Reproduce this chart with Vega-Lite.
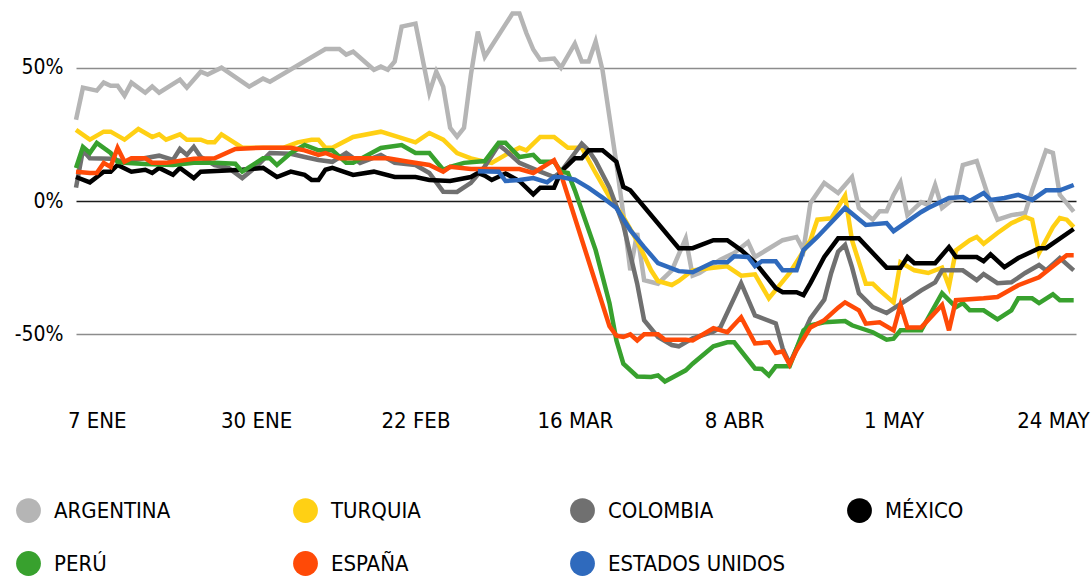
{
  "$schema": "https://vega.github.io/schema/vega-lite/v6.json",
  "width": 1000,
  "height": 400,
  "autosize": {"type": "none"},
  "padding": {"left": 76, "top": 1, "right": 16, "bottom": 184},
  "background": "white",
  "config": {"view": {"stroke": null}, "font": "DejaVu Sans Condensed, Liberation Sans Narrow, DejaVu Sans"},
  "data": {"values": [
    {"c":"ARGENTINA","d":"2020-01-04","v":30.5},{"c":"ARGENTINA","d":"2020-01-05","v":42.5},{"c":"ARGENTINA","d":"2020-01-07","v":41.4},{"c":"ARGENTINA","d":"2020-01-08","v":44.4},{"c":"ARGENTINA","d":"2020-01-09","v":43.2},{"c":"ARGENTINA","d":"2020-01-10","v":43.2},{"c":"ARGENTINA","d":"2020-01-11","v":39.5},{"c":"ARGENTINA","d":"2020-01-12","v":44.4},{"c":"ARGENTINA","d":"2020-01-14","v":40.6},{"c":"ARGENTINA","d":"2020-01-15","v":42.9},{"c":"ARGENTINA","d":"2020-01-16","v":40.6},{"c":"ARGENTINA","d":"2020-01-19","v":45.5},{"c":"ARGENTINA","d":"2020-01-20","v":42.5},{"c":"ARGENTINA","d":"2020-01-22","v":48.5},{"c":"ARGENTINA","d":"2020-01-23","v":47.4},{"c":"ARGENTINA","d":"2020-01-25","v":50},{"c":"ARGENTINA","d":"2020-01-29","v":42.9},{"c":"ARGENTINA","d":"2020-01-31","v":45.9},{"c":"ARGENTINA","d":"2020-02-01","v":44.7},{"c":"ARGENTINA","d":"2020-02-09","v":57},{"c":"ARGENTINA","d":"2020-02-11","v":57},{"c":"ARGENTINA","d":"2020-02-12","v":54.9},{"c":"ARGENTINA","d":"2020-02-13","v":56},{"c":"ARGENTINA","d":"2020-02-16","v":49.2},{"c":"ARGENTINA","d":"2020-02-17","v":50.4},{"c":"ARGENTINA","d":"2020-02-18","v":49.2},{"c":"ARGENTINA","d":"2020-02-19","v":52.3},{"c":"ARGENTINA","d":"2020-02-20","v":65.4},{"c":"ARGENTINA","d":"2020-02-22","v":66.5},{"c":"ARGENTINA","d":"2020-02-24","v":40.6},{"c":"ARGENTINA","d":"2020-02-25","v":48.5},{"c":"ARGENTINA","d":"2020-02-26","v":42.9},{"c":"ARGENTINA","d":"2020-02-27","v":27.4},{"c":"ARGENTINA","d":"2020-02-28","v":24.1},{"c":"ARGENTINA","d":"2020-02-29","v":27.4},{"c":"ARGENTINA","d":"2020-03-01","v":47.4},{"c":"ARGENTINA","d":"2020-03-02","v":63.5},{"c":"ARGENTINA","d":"2020-03-03","v":54.1},{"c":"ARGENTINA","d":"2020-03-07","v":70.3},{"c":"ARGENTINA","d":"2020-03-08","v":70.3},{"c":"ARGENTINA","d":"2020-03-09","v":63},{"c":"ARGENTINA","d":"2020-03-10","v":56.8},{"c":"ARGENTINA","d":"2020-03-11","v":53},{"c":"ARGENTINA","d":"2020-03-13","v":53.4},{"c":"ARGENTINA","d":"2020-03-14","v":50},{"c":"ARGENTINA","d":"2020-03-16","v":59},{"c":"ARGENTINA","d":"2020-03-17","v":52.3},{"c":"ARGENTINA","d":"2020-03-18","v":52.3},{"c":"ARGENTINA","d":"2020-03-19","v":59.8},{"c":"ARGENTINA","d":"2020-03-20","v":49},{"c":"ARGENTINA","d":"2020-03-22","v":14},{"c":"ARGENTINA","d":"2020-03-23","v":-5},{"c":"ARGENTINA","d":"2020-03-24","v":-26},{"c":"ARGENTINA","d":"2020-03-25","v":-12},{"c":"ARGENTINA","d":"2020-03-26","v":-29.7},{"c":"ARGENTINA","d":"2020-03-28","v":-31},{"c":"ARGENTINA","d":"2020-03-30","v":-26},{"c":"ARGENTINA","d":"2020-04-01","v":-14},{"c":"ARGENTINA","d":"2020-04-02","v":-28},{"c":"ARGENTINA","d":"2020-04-03","v":-27},{"c":"ARGENTINA","d":"2020-04-06","v":-22},{"c":"ARGENTINA","d":"2020-04-08","v":-19.5},{"c":"ARGENTINA","d":"2020-04-10","v":-15.4},{"c":"ARGENTINA","d":"2020-04-11","v":-21},{"c":"ARGENTINA","d":"2020-04-15","v":-14.7},{"c":"ARGENTINA","d":"2020-04-17","v":-13.5},{"c":"ARGENTINA","d":"2020-04-18","v":-18.4},{"c":"ARGENTINA","d":"2020-04-19","v":-0.8},{"c":"ARGENTINA","d":"2020-04-21","v":6.8},{"c":"ARGENTINA","d":"2020-04-23","v":3},{"c":"ARGENTINA","d":"2020-04-25","v":9},{"c":"ARGENTINA","d":"2020-04-26","v":-2.6},{"c":"ARGENTINA","d":"2020-04-28","v":-7},{"c":"ARGENTINA","d":"2020-04-29","v":-3.8},{"c":"ARGENTINA","d":"2020-04-30","v":-3.8},{"c":"ARGENTINA","d":"2020-05-01","v":2.3},{"c":"ARGENTINA","d":"2020-05-02","v":7},{"c":"ARGENTINA","d":"2020-05-03","v":-5.3},{"c":"ARGENTINA","d":"2020-05-05","v":-0.4},{"c":"ARGENTINA","d":"2020-05-06","v":-1.5},{"c":"ARGENTINA","d":"2020-05-07","v":6},{"c":"ARGENTINA","d":"2020-05-08","v":-2.6},{"c":"ARGENTINA","d":"2020-05-10","v":1.5},{"c":"ARGENTINA","d":"2020-05-11","v":13.5},{"c":"ARGENTINA","d":"2020-05-13","v":15},{"c":"ARGENTINA","d":"2020-05-15","v":-0.8},{"c":"ARGENTINA","d":"2020-05-16","v":-7},{"c":"ARGENTINA","d":"2020-05-18","v":-5.3},{"c":"ARGENTINA","d":"2020-05-20","v":-4.5},{"c":"ARGENTINA","d":"2020-05-21","v":4},{"c":"ARGENTINA","d":"2020-05-23","v":19},{"c":"ARGENTINA","d":"2020-05-24","v":18},{"c":"ARGENTINA","d":"2020-05-25","v":2.3},{"c":"ARGENTINA","d":"2020-05-27","v":-4},

    {"c":"TURQUIA","d":"2020-01-04","v":26.7},{"c":"TURQUIA","d":"2020-01-06","v":23},{"c":"TURQUIA","d":"2020-01-08","v":26},{"c":"TURQUIA","d":"2020-01-09","v":26},{"c":"TURQUIA","d":"2020-01-11","v":23},{"c":"TURQUIA","d":"2020-01-13","v":27},{"c":"TURQUIA","d":"2020-01-15","v":24},{"c":"TURQUIA","d":"2020-01-16","v":25},{"c":"TURQUIA","d":"2020-01-17","v":23},{"c":"TURQUIA","d":"2020-01-19","v":25},{"c":"TURQUIA","d":"2020-01-20","v":23},{"c":"TURQUIA","d":"2020-01-22","v":23},{"c":"TURQUIA","d":"2020-01-23","v":22},{"c":"TURQUIA","d":"2020-01-24","v":22},{"c":"TURQUIA","d":"2020-01-25","v":25},{"c":"TURQUIA","d":"2020-01-28","v":20},{"c":"TURQUIA","d":"2020-01-31","v":20},{"c":"TURQUIA","d":"2020-02-03","v":20},{"c":"TURQUIA","d":"2020-02-05","v":22},{"c":"TURQUIA","d":"2020-02-07","v":23},{"c":"TURQUIA","d":"2020-02-08","v":23},{"c":"TURQUIA","d":"2020-02-09","v":20},{"c":"TURQUIA","d":"2020-02-10","v":20},{"c":"TURQUIA","d":"2020-02-13","v":24},{"c":"TURQUIA","d":"2020-02-17","v":26},{"c":"TURQUIA","d":"2020-02-22","v":22},{"c":"TURQUIA","d":"2020-02-24","v":25.5},{"c":"TURQUIA","d":"2020-02-26","v":23},{"c":"TURQUIA","d":"2020-02-28","v":18},{"c":"TURQUIA","d":"2020-03-01","v":16},{"c":"TURQUIA","d":"2020-03-03","v":14.7},{"c":"TURQUIA","d":"2020-03-04","v":14.3},{"c":"TURQUIA","d":"2020-03-06","v":17.3},{"c":"TURQUIA","d":"2020-03-08","v":20},{"c":"TURQUIA","d":"2020-03-09","v":19},{"c":"TURQUIA","d":"2020-03-11","v":24},{"c":"TURQUIA","d":"2020-03-13","v":24},{"c":"TURQUIA","d":"2020-03-15","v":20},{"c":"TURQUIA","d":"2020-03-17","v":20},{"c":"TURQUIA","d":"2020-03-19","v":10.5},{"c":"TURQUIA","d":"2020-03-21","v":1.5},{"c":"TURQUIA","d":"2020-03-23","v":-6},{"c":"TURQUIA","d":"2020-03-25","v":-15},{"c":"TURQUIA","d":"2020-03-27","v":-26},{"c":"TURQUIA","d":"2020-03-28","v":-30},{"c":"TURQUIA","d":"2020-03-30","v":-31.5},{"c":"TURQUIA","d":"2020-03-31","v":-30},{"c":"TURQUIA","d":"2020-04-02","v":-26},{"c":"TURQUIA","d":"2020-04-05","v":-25},{"c":"TURQUIA","d":"2020-04-07","v":-24.5},{"c":"TURQUIA","d":"2020-04-09","v":-28},{"c":"TURQUIA","d":"2020-04-11","v":-27.5},{"c":"TURQUIA","d":"2020-04-13","v":-36.5},{"c":"TURQUIA","d":"2020-04-16","v":-27},{"c":"TURQUIA","d":"2020-04-19","v":-14.7},{"c":"TURQUIA","d":"2020-04-20","v":-7},{"c":"TURQUIA","d":"2020-04-22","v":-6.5},{"c":"TURQUIA","d":"2020-04-24","v":2},{"c":"TURQUIA","d":"2020-04-25","v":-14.7},{"c":"TURQUIA","d":"2020-04-27","v":-31},{"c":"TURQUIA","d":"2020-04-28","v":-31},{"c":"TURQUIA","d":"2020-04-29","v":-33.5},{"c":"TURQUIA","d":"2020-05-01","v":-38},{"c":"TURQUIA","d":"2020-05-02","v":-23},{"c":"TURQUIA","d":"2020-05-04","v":-26},{"c":"TURQUIA","d":"2020-05-06","v":-27},{"c":"TURQUIA","d":"2020-05-08","v":-25},{"c":"TURQUIA","d":"2020-05-09","v":-32},{"c":"TURQUIA","d":"2020-05-10","v":-18.5},{"c":"TURQUIA","d":"2020-05-12","v":-14.7},{"c":"TURQUIA","d":"2020-05-13","v":-13.5},{"c":"TURQUIA","d":"2020-05-14","v":-16},{"c":"TURQUIA","d":"2020-05-16","v":-12},{"c":"TURQUIA","d":"2020-05-18","v":-8.3},{"c":"TURQUIA","d":"2020-05-20","v":-6},{"c":"TURQUIA","d":"2020-05-21","v":-7},{"c":"TURQUIA","d":"2020-05-22","v":-19.5},{"c":"TURQUIA","d":"2020-05-24","v":-9.8},{"c":"TURQUIA","d":"2020-05-25","v":-6.4},{"c":"TURQUIA","d":"2020-05-26","v":-7},{"c":"TURQUIA","d":"2020-05-27","v":-9.8},

    {"c":"COLOMBIA","d":"2020-01-04","v":5},{"c":"COLOMBIA","d":"2020-01-05","v":19},{"c":"COLOMBIA","d":"2020-01-06","v":16},{"c":"COLOMBIA","d":"2020-01-09","v":15.8},{"c":"COLOMBIA","d":"2020-01-11","v":14.7},{"c":"COLOMBIA","d":"2020-01-16","v":17},{"c":"COLOMBIA","d":"2020-01-18","v":15.4},{"c":"COLOMBIA","d":"2020-01-19","v":19.5},{"c":"COLOMBIA","d":"2020-01-20","v":17.3},{"c":"COLOMBIA","d":"2020-01-21","v":20.3},{"c":"COLOMBIA","d":"2020-01-22","v":16.5},{"c":"COLOMBIA","d":"2020-01-24","v":13.5},{"c":"COLOMBIA","d":"2020-01-26","v":12.4},{"c":"COLOMBIA","d":"2020-01-28","v":8.6},{"c":"COLOMBIA","d":"2020-01-30","v":12.8},{"c":"COLOMBIA","d":"2020-02-01","v":18},{"c":"COLOMBIA","d":"2020-02-04","v":17.7},{"c":"COLOMBIA","d":"2020-02-06","v":16.5},{"c":"COLOMBIA","d":"2020-02-08","v":15.4},{"c":"COLOMBIA","d":"2020-02-10","v":14.7},{"c":"COLOMBIA","d":"2020-02-12","v":18},{"c":"COLOMBIA","d":"2020-02-14","v":14.3},{"c":"COLOMBIA","d":"2020-02-17","v":17.3},{"c":"COLOMBIA","d":"2020-02-19","v":14.3},{"c":"COLOMBIA","d":"2020-02-22","v":13.5},{"c":"COLOMBIA","d":"2020-02-24","v":10.5},{"c":"COLOMBIA","d":"2020-02-26","v":3.5},{"c":"COLOMBIA","d":"2020-02-28","v":3.4},{"c":"COLOMBIA","d":"2020-03-01","v":6.8},{"c":"COLOMBIA","d":"2020-03-03","v":13},{"c":"COLOMBIA","d":"2020-03-05","v":21},{"c":"COLOMBIA","d":"2020-03-06","v":19},{"c":"COLOMBIA","d":"2020-03-08","v":14.3},{"c":"COLOMBIA","d":"2020-03-11","v":11},{"c":"COLOMBIA","d":"2020-03-13","v":9},{"c":"COLOMBIA","d":"2020-03-14","v":11},{"c":"COLOMBIA","d":"2020-03-16","v":18},{"c":"COLOMBIA","d":"2020-03-17","v":21.5},{"c":"COLOMBIA","d":"2020-03-18","v":19},{"c":"COLOMBIA","d":"2020-03-19","v":15},{"c":"COLOMBIA","d":"2020-03-21","v":5},{"c":"COLOMBIA","d":"2020-03-23","v":-9},{"c":"COLOMBIA","d":"2020-03-25","v":-31},{"c":"COLOMBIA","d":"2020-03-26","v":-44.7},{"c":"COLOMBIA","d":"2020-03-28","v":-51},{"c":"COLOMBIA","d":"2020-03-30","v":-54},{"c":"COLOMBIA","d":"2020-03-31","v":-54.5},{"c":"COLOMBIA","d":"2020-04-02","v":-51.5},{"c":"COLOMBIA","d":"2020-04-05","v":-49},{"c":"COLOMBIA","d":"2020-04-06","v":-47.4},{"c":"COLOMBIA","d":"2020-04-09","v":-30.8},{"c":"COLOMBIA","d":"2020-04-11","v":-42.9},{"c":"COLOMBIA","d":"2020-04-14","v":-45.9},{"c":"COLOMBIA","d":"2020-04-15","v":-55.3},{"c":"COLOMBIA","d":"2020-04-16","v":-61},{"c":"COLOMBIA","d":"2020-04-19","v":-44},{"c":"COLOMBIA","d":"2020-04-21","v":-37},{"c":"COLOMBIA","d":"2020-04-22","v":-27},{"c":"COLOMBIA","d":"2020-04-23","v":-19},{"c":"COLOMBIA","d":"2020-04-24","v":-16.5},{"c":"COLOMBIA","d":"2020-04-25","v":-24.8},{"c":"COLOMBIA","d":"2020-04-26","v":-34.6},{"c":"COLOMBIA","d":"2020-04-28","v":-39.8},{"c":"COLOMBIA","d":"2020-04-30","v":-42},{"c":"COLOMBIA","d":"2020-05-03","v":-37},{"c":"COLOMBIA","d":"2020-05-05","v":-33.5},{"c":"COLOMBIA","d":"2020-05-07","v":-30.5},{"c":"COLOMBIA","d":"2020-05-08","v":-26},{"c":"COLOMBIA","d":"2020-05-11","v":-26},{"c":"COLOMBIA","d":"2020-05-13","v":-29.7},{"c":"COLOMBIA","d":"2020-05-14","v":-27.4},{"c":"COLOMBIA","d":"2020-05-16","v":-30.8},{"c":"COLOMBIA","d":"2020-05-18","v":-30.5},{"c":"COLOMBIA","d":"2020-05-20","v":-27},{"c":"COLOMBIA","d":"2020-05-22","v":-24},{"c":"COLOMBIA","d":"2020-05-23","v":-26},{"c":"COLOMBIA","d":"2020-05-25","v":-21.4},{"c":"COLOMBIA","d":"2020-05-27","v":-26},

    {"c":"MÉXICO","d":"2020-01-04","v":9},{"c":"MÉXICO","d":"2020-01-06","v":7},{"c":"MÉXICO","d":"2020-01-08","v":11},{"c":"MÉXICO","d":"2020-01-09","v":11},{"c":"MÉXICO","d":"2020-01-10","v":13.5},{"c":"MÉXICO","d":"2020-01-12","v":11},{"c":"MÉXICO","d":"2020-01-14","v":11.7},{"c":"MÉXICO","d":"2020-01-15","v":10.5},{"c":"MÉXICO","d":"2020-01-16","v":12.4},{"c":"MÉXICO","d":"2020-01-18","v":9.8},{"c":"MÉXICO","d":"2020-01-19","v":12.4},{"c":"MÉXICO","d":"2020-01-21","v":8.6},{"c":"MÉXICO","d":"2020-01-22","v":11},{"c":"MÉXICO","d":"2020-01-28","v":11.7},{"c":"MÉXICO","d":"2020-01-31","v":12.4},{"c":"MÉXICO","d":"2020-02-02","v":9},{"c":"MÉXICO","d":"2020-02-04","v":11},{"c":"MÉXICO","d":"2020-02-06","v":9.8},{"c":"MÉXICO","d":"2020-02-07","v":7.9},{"c":"MÉXICO","d":"2020-02-08","v":7.9},{"c":"MÉXICO","d":"2020-02-09","v":11.7},{"c":"MÉXICO","d":"2020-02-10","v":12.4},{"c":"MÉXICO","d":"2020-02-13","v":9.8},{"c":"MÉXICO","d":"2020-02-16","v":11},{"c":"MÉXICO","d":"2020-02-19","v":9},{"c":"MÉXICO","d":"2020-02-22","v":9},{"c":"MÉXICO","d":"2020-02-24","v":7.9},{"c":"MÉXICO","d":"2020-02-27","v":7.5},{"c":"MÉXICO","d":"2020-03-01","v":9},{"c":"MÉXICO","d":"2020-03-02","v":10.5},{"c":"MÉXICO","d":"2020-03-03","v":9.5},{"c":"MÉXICO","d":"2020-03-04","v":7.9},{"c":"MÉXICO","d":"2020-03-06","v":10.3},{"c":"MÉXICO","d":"2020-03-08","v":7.5},{"c":"MÉXICO","d":"2020-03-10","v":2.5},{"c":"MÉXICO","d":"2020-03-11","v":5},{"c":"MÉXICO","d":"2020-03-13","v":5},{"c":"MÉXICO","d":"2020-03-14","v":11},{"c":"MÉXICO","d":"2020-03-16","v":16},{"c":"MÉXICO","d":"2020-03-17","v":16},{"c":"MÉXICO","d":"2020-03-18","v":19},{"c":"MÉXICO","d":"2020-03-20","v":19},{"c":"MÉXICO","d":"2020-03-22","v":14.7},{"c":"MÉXICO","d":"2020-03-23","v":5.3},{"c":"MÉXICO","d":"2020-03-24","v":4},{"c":"MÉXICO","d":"2020-03-31","v":-17.7},{"c":"MÉXICO","d":"2020-04-02","v":-17.7},{"c":"MÉXICO","d":"2020-04-05","v":-14.7},{"c":"MÉXICO","d":"2020-04-07","v":-14.7},{"c":"MÉXICO","d":"2020-04-09","v":-18.4},{"c":"MÉXICO","d":"2020-04-11","v":-23},{"c":"MÉXICO","d":"2020-04-14","v":-32.7},{"c":"MÉXICO","d":"2020-04-15","v":-34.2},{"c":"MÉXICO","d":"2020-04-17","v":-34.2},{"c":"MÉXICO","d":"2020-04-18","v":-35.3},{"c":"MÉXICO","d":"2020-04-19","v":-30.8},{"c":"MÉXICO","d":"2020-04-21","v":-21},{"c":"MÉXICO","d":"2020-04-23","v":-14},{"c":"MÉXICO","d":"2020-04-26","v":-14},{"c":"MÉXICO","d":"2020-04-30","v":-25},{"c":"MÉXICO","d":"2020-05-02","v":-25},{"c":"MÉXICO","d":"2020-05-03","v":-21},{"c":"MÉXICO","d":"2020-05-04","v":-23.3},{"c":"MÉXICO","d":"2020-05-07","v":-23.3},{"c":"MÉXICO","d":"2020-05-09","v":-17.3},{"c":"MÉXICO","d":"2020-05-10","v":-21},{"c":"MÉXICO","d":"2020-05-13","v":-21},{"c":"MÉXICO","d":"2020-05-14","v":-22.6},{"c":"MÉXICO","d":"2020-05-15","v":-20},{"c":"MÉXICO","d":"2020-05-17","v":-24.8},{"c":"MÉXICO","d":"2020-05-19","v":-21.4},{"c":"MÉXICO","d":"2020-05-22","v":-17.7},{"c":"MÉXICO","d":"2020-05-23","v":-17.7},{"c":"MÉXICO","d":"2020-05-27","v":-10.5},

    {"c":"PERÚ","d":"2020-01-04","v":12.4},{"c":"PERÚ","d":"2020-01-05","v":20.3},{"c":"PERÚ","d":"2020-01-06","v":18},{"c":"PERÚ","d":"2020-01-07","v":21.8},{"c":"PERÚ","d":"2020-01-09","v":18},{"c":"PERÚ","d":"2020-01-10","v":14.7},{"c":"PERÚ","d":"2020-01-11","v":14.3},{"c":"PERÚ","d":"2020-01-14","v":13.9},{"c":"PERÚ","d":"2020-01-18","v":13.5},{"c":"PERÚ","d":"2020-01-21","v":14.3},{"c":"PERÚ","d":"2020-01-24","v":14.3},{"c":"PERÚ","d":"2020-01-27","v":14},{"c":"PERÚ","d":"2020-01-28","v":11},{"c":"PERÚ","d":"2020-01-31","v":16},{"c":"PERÚ","d":"2020-02-01","v":16},{"c":"PERÚ","d":"2020-02-02","v":13.5},{"c":"PERÚ","d":"2020-02-04","v":18},{"c":"PERÚ","d":"2020-02-06","v":21},{"c":"PERÚ","d":"2020-02-08","v":19},{"c":"PERÚ","d":"2020-02-10","v":19},{"c":"PERÚ","d":"2020-02-12","v":14.3},{"c":"PERÚ","d":"2020-02-13","v":14.3},{"c":"PERÚ","d":"2020-02-17","v":19.9},{"c":"PERÚ","d":"2020-02-20","v":21},{"c":"PERÚ","d":"2020-02-22","v":18},{"c":"PERÚ","d":"2020-02-24","v":18},{"c":"PERÚ","d":"2020-02-26","v":11.7},{"c":"PERÚ","d":"2020-02-27","v":12.8},{"c":"PERÚ","d":"2020-02-29","v":14.3},{"c":"PERÚ","d":"2020-03-03","v":15},{"c":"PERÚ","d":"2020-03-05","v":21.8},{"c":"PERÚ","d":"2020-03-06","v":21.8},{"c":"PERÚ","d":"2020-03-08","v":16.5},{"c":"PERÚ","d":"2020-03-10","v":17.3},{"c":"PERÚ","d":"2020-03-11","v":14.7},{"c":"PERÚ","d":"2020-03-13","v":14.7},{"c":"PERÚ","d":"2020-03-14","v":11},{"c":"PERÚ","d":"2020-03-15","v":10.5},{"c":"PERÚ","d":"2020-03-16","v":4},{"c":"PERÚ","d":"2020-03-19","v":-18.4},{"c":"PERÚ","d":"2020-03-21","v":-38.3},{"c":"PERÚ","d":"2020-03-22","v":-52.3},{"c":"PERÚ","d":"2020-03-23","v":-61},{"c":"PERÚ","d":"2020-03-25","v":-65.8},{"c":"PERÚ","d":"2020-03-27","v":-66},{"c":"PERÚ","d":"2020-03-28","v":-65.4},{"c":"PERÚ","d":"2020-03-29","v":-67.7},{"c":"PERÚ","d":"2020-04-01","v":-63.5},{"c":"PERÚ","d":"2020-04-02","v":-61},{"c":"PERÚ","d":"2020-04-05","v":-54.5},{"c":"PERÚ","d":"2020-04-07","v":-53},{"c":"PERÚ","d":"2020-04-08","v":-53},{"c":"PERÚ","d":"2020-04-11","v":-62.8},{"c":"PERÚ","d":"2020-04-12","v":-63},{"c":"PERÚ","d":"2020-04-13","v":-65.4},{"c":"PERÚ","d":"2020-04-14","v":-62},{"c":"PERÚ","d":"2020-04-16","v":-62},{"c":"PERÚ","d":"2020-04-18","v":-48.5},{"c":"PERÚ","d":"2020-04-19","v":-46.6},{"c":"PERÚ","d":"2020-04-21","v":-45.5},{"c":"PERÚ","d":"2020-04-24","v":-45},{"c":"PERÚ","d":"2020-04-25","v":-46.6},{"c":"PERÚ","d":"2020-04-28","v":-49.2},{"c":"PERÚ","d":"2020-04-30","v":-52},{"c":"PERÚ","d":"2020-05-01","v":-51.6},{"c":"PERÚ","d":"2020-05-02","v":-48.5},{"c":"PERÚ","d":"2020-05-05","v":-48.5},{"c":"PERÚ","d":"2020-05-08","v":-34.6},{"c":"PERÚ","d":"2020-05-10","v":-39.8},{"c":"PERÚ","d":"2020-05-11","v":-38.3},{"c":"PERÚ","d":"2020-05-12","v":-41},{"c":"PERÚ","d":"2020-05-14","v":-41},{"c":"PERÚ","d":"2020-05-16","v":-44.4},{"c":"PERÚ","d":"2020-05-18","v":-41},{"c":"PERÚ","d":"2020-05-19","v":-36.5},{"c":"PERÚ","d":"2020-05-21","v":-36.5},{"c":"PERÚ","d":"2020-05-22","v":-38.3},{"c":"PERÚ","d":"2020-05-24","v":-35},{"c":"PERÚ","d":"2020-05-25","v":-37.2},{"c":"PERÚ","d":"2020-05-27","v":-37.2},

    {"c":"ESPAÑA","d":"2020-01-04","v":11},{"c":"ESPAÑA","d":"2020-01-06","v":10.5},{"c":"ESPAÑA","d":"2020-01-07","v":10.5},{"c":"ESPAÑA","d":"2020-01-08","v":14.3},{"c":"ESPAÑA","d":"2020-01-09","v":12.8},{"c":"ESPAÑA","d":"2020-01-10","v":19.9},{"c":"ESPAÑA","d":"2020-01-11","v":14.7},{"c":"ESPAÑA","d":"2020-01-12","v":16},{"c":"ESPAÑA","d":"2020-01-14","v":16},{"c":"ESPAÑA","d":"2020-01-15","v":14.3},{"c":"ESPAÑA","d":"2020-01-17","v":14.3},{"c":"ESPAÑA","d":"2020-01-21","v":15.8},{"c":"ESPAÑA","d":"2020-01-24","v":16},{"c":"ESPAÑA","d":"2020-01-27","v":19.5},{"c":"ESPAÑA","d":"2020-01-31","v":20},{"c":"ESPAÑA","d":"2020-02-04","v":20},{"c":"ESPAÑA","d":"2020-02-06","v":19},{"c":"ESPAÑA","d":"2020-02-08","v":17.3},{"c":"ESPAÑA","d":"2020-02-09","v":18},{"c":"ESPAÑA","d":"2020-02-11","v":16},{"c":"ESPAÑA","d":"2020-02-18","v":16},{"c":"ESPAÑA","d":"2020-02-21","v":14.7},{"c":"ESPAÑA","d":"2020-02-24","v":13.5},{"c":"ESPAÑA","d":"2020-02-26","v":11},{"c":"ESPAÑA","d":"2020-02-27","v":12.8},{"c":"ESPAÑA","d":"2020-03-01","v":12},{"c":"ESPAÑA","d":"2020-03-08","v":12},{"c":"ESPAÑA","d":"2020-03-10","v":10.5},{"c":"ESPAÑA","d":"2020-03-13","v":15.3},{"c":"ESPAÑA","d":"2020-03-14","v":10},{"c":"ESPAÑA","d":"2020-03-21","v":-47},{"c":"ESPAÑA","d":"2020-03-22","v":-50.5},{"c":"ESPAÑA","d":"2020-03-23","v":-51},{"c":"ESPAÑA","d":"2020-03-24","v":-50},{"c":"ESPAÑA","d":"2020-03-25","v":-52.3},{"c":"ESPAÑA","d":"2020-03-26","v":-50},{"c":"ESPAÑA","d":"2020-03-28","v":-50},{"c":"ESPAÑA","d":"2020-03-29","v":-52},{"c":"ESPAÑA","d":"2020-04-01","v":-52},{"c":"ESPAÑA","d":"2020-04-02","v":-52.3},{"c":"ESPAÑA","d":"2020-04-05","v":-47.7},{"c":"ESPAÑA","d":"2020-04-07","v":-49.2},{"c":"ESPAÑA","d":"2020-04-09","v":-43.6},{"c":"ESPAÑA","d":"2020-04-11","v":-53.4},{"c":"ESPAÑA","d":"2020-04-13","v":-53},{"c":"ESPAÑA","d":"2020-04-14","v":-57},{"c":"ESPAÑA","d":"2020-04-15","v":-56.4},{"c":"ESPAÑA","d":"2020-04-16","v":-61.3},{"c":"ESPAÑA","d":"2020-04-17","v":-56},{"c":"ESPAÑA","d":"2020-04-19","v":-47.4},{"c":"ESPAÑA","d":"2020-04-21","v":-44.7},{"c":"ESPAÑA","d":"2020-04-23","v":-40},{"c":"ESPAÑA","d":"2020-04-24","v":-38},{"c":"ESPAÑA","d":"2020-04-26","v":-41},{"c":"ESPAÑA","d":"2020-04-27","v":-46},{"c":"ESPAÑA","d":"2020-04-29","v":-45.5},{"c":"ESPAÑA","d":"2020-05-01","v":-48.5},{"c":"ESPAÑA","d":"2020-05-02","v":-39},{"c":"ESPAÑA","d":"2020-05-03","v":-47.4},{"c":"ESPAÑA","d":"2020-05-05","v":-47.4},{"c":"ESPAÑA","d":"2020-05-08","v":-39},{"c":"ESPAÑA","d":"2020-05-09","v":-48.5},{"c":"ESPAÑA","d":"2020-05-10","v":-37.2},{"c":"ESPAÑA","d":"2020-05-14","v":-36.5},{"c":"ESPAÑA","d":"2020-05-16","v":-36},{"c":"ESPAÑA","d":"2020-05-19","v":-31.6},{"c":"ESPAÑA","d":"2020-05-22","v":-28.6},{"c":"ESPAÑA","d":"2020-05-26","v":-20.3},{"c":"ESPAÑA","d":"2020-05-27","v":-20.3},

    {"c":"ESTADOS UNIDOS","d":"2020-03-02","v":11.2},{"c":"ESTADOS UNIDOS","d":"2020-03-05","v":11},{"c":"ESTADOS UNIDOS","d":"2020-03-06","v":7.5},{"c":"ESTADOS UNIDOS","d":"2020-03-08","v":7.9},{"c":"ESTADOS UNIDOS","d":"2020-03-10","v":8.6},{"c":"ESTADOS UNIDOS","d":"2020-03-12","v":7},{"c":"ESTADOS UNIDOS","d":"2020-03-13","v":9},{"c":"ESTADOS UNIDOS","d":"2020-03-14","v":9},{"c":"ESTADOS UNIDOS","d":"2020-03-16","v":8},{"c":"ESTADOS UNIDOS","d":"2020-03-18","v":4.9},{"c":"ESTADOS UNIDOS","d":"2020-03-20","v":1.3},{"c":"ESTADOS UNIDOS","d":"2020-03-22","v":-2.6},{"c":"ESTADOS UNIDOS","d":"2020-03-24","v":-10.9},{"c":"ESTADOS UNIDOS","d":"2020-03-26","v":-17.3},{"c":"ESTADOS UNIDOS","d":"2020-03-28","v":-23.3},{"c":"ESTADOS UNIDOS","d":"2020-03-31","v":-26.3},{"c":"ESTADOS UNIDOS","d":"2020-04-02","v":-26.7},{"c":"ESTADOS UNIDOS","d":"2020-04-05","v":-23},{"c":"ESTADOS UNIDOS","d":"2020-04-07","v":-23},{"c":"ESTADOS UNIDOS","d":"2020-04-08","v":-20.7},{"c":"ESTADOS UNIDOS","d":"2020-04-10","v":-21},{"c":"ESTADOS UNIDOS","d":"2020-04-11","v":-24.4},{"c":"ESTADOS UNIDOS","d":"2020-04-12","v":-22.6},{"c":"ESTADOS UNIDOS","d":"2020-04-14","v":-22.6},{"c":"ESTADOS UNIDOS","d":"2020-04-15","v":-26},{"c":"ESTADOS UNIDOS","d":"2020-04-17","v":-26},{"c":"ESTADOS UNIDOS","d":"2020-04-18","v":-18.4},{"c":"ESTADOS UNIDOS","d":"2020-04-20","v":-13.5},{"c":"ESTADOS UNIDOS","d":"2020-04-24","v":-2.6},{"c":"ESTADOS UNIDOS","d":"2020-04-27","v":-9},{"c":"ESTADOS UNIDOS","d":"2020-04-30","v":-8.3},{"c":"ESTADOS UNIDOS","d":"2020-05-01","v":-11.3},{"c":"ESTADOS UNIDOS","d":"2020-05-05","v":-4.1},{"c":"ESTADOS UNIDOS","d":"2020-05-06","v":-2.6},{"c":"ESTADOS UNIDOS","d":"2020-05-09","v":1.1},{"c":"ESTADOS UNIDOS","d":"2020-05-11","v":1.5},{"c":"ESTADOS UNIDOS","d":"2020-05-12","v":0},{"c":"ESTADOS UNIDOS","d":"2020-05-14","v":3},{"c":"ESTADOS UNIDOS","d":"2020-05-15","v":0.4},{"c":"ESTADOS UNIDOS","d":"2020-05-17","v":1.1},{"c":"ESTADOS UNIDOS","d":"2020-05-19","v":2.3},{"c":"ESTADOS UNIDOS","d":"2020-05-21","v":0.4},{"c":"ESTADOS UNIDOS","d":"2020-05-23","v":4},{"c":"ESTADOS UNIDOS","d":"2020-05-25","v":4},{"c":"ESTADOS UNIDOS","d":"2020-05-27","v":6}
  ]},
  "mark": {"type": "line", "strokeWidth": 4.5},
  "encoding": {
    "x": {
      "field": "d", "type": "temporal",
      "scale": {"type": "utc", "domain": [{"year": 2020, "month": 1, "date": 4, "utc": true}, {"year": 2020, "month": 5, "date": 27, "hours": 8, "utc": true}]},
      "axis": {
        "title": null, "domain": false, "ticks": false, "grid": false,
        "values": [
          {"year": 2020, "month": 1, "date": 7, "utc": true},
          {"year": 2020, "month": 1, "date": 30, "utc": true},
          {"year": 2020, "month": 2, "date": 22, "utc": true},
          {"year": 2020, "month": 3, "date": 16, "utc": true},
          {"year": 2020, "month": 4, "date": 8, "utc": true},
          {"year": 2020, "month": 5, "date": 1, "utc": true},
          {"year": 2020, "month": 5, "date": 24, "utc": true}
        ],
        "labelExpr": "utcdate(datum.value) + ' ' + ['ENE','FEB','MAR','ABR','MAY'][utcmonth(datum.value)]",
        "labelFontSize": 22, "labelColor": "#000000", "labelPadding": 9, "labelFlush": false, "labelOverlap": false
      }
    },
    "y": {
      "field": "v", "type": "quantitative",
      "scale": {"domain": [-75, 75]},
      "axis": {
        "title": null, "domain": false, "ticks": false, "grid": true,
        "values": [-50, 0, 50],
        "labelExpr": "datum.value + '%'",
        "gridColor": {"condition": {"test": "datum.value === 0", "value": "#1a1a1a"}, "value": "#8c8c8c"},
        "gridWidth": 1.3, "gridOpacity": 1,
        "labelFontSize": 21, "labelColor": "#000000", "labelPadding": 13
      }
    },
    "color": {
      "field": "c", "type": "nominal",
      "scale": {
        "domain": ["ARGENTINA", "TURQUIA", "COLOMBIA", "MÉXICO", "PERÚ", "ESPAÑA", "ESTADOS UNIDOS"],
        "range": ["#b5b5b5", "#ffd014", "#707070", "#000000", "#38a12e", "#ff4a07", "#2f6abd"]
      },
      "legend": {
        "title": null, "orient": "none", "legendX": -60, "legendY": 497,
        "direction": "horizontal", "columns": 4, "gridAlign": "all",
        "symbolType": "circle", "symbolSize": 615, "symbolStrokeWidth": 0,
        "labelFontSize": 22, "labelColor": "#000000", "labelOffset": 13, "labelLimit": 400,
        "columnPadding": 61, "rowPadding": 28, "padding": 0,
        "encode": {"symbols": {"update": {"fill": {"scale": "color", "field": "value"}, "fillOpacity": {"value": 1}, "strokeWidth": {"value": 0}}}}
      }
    }
  }
}
